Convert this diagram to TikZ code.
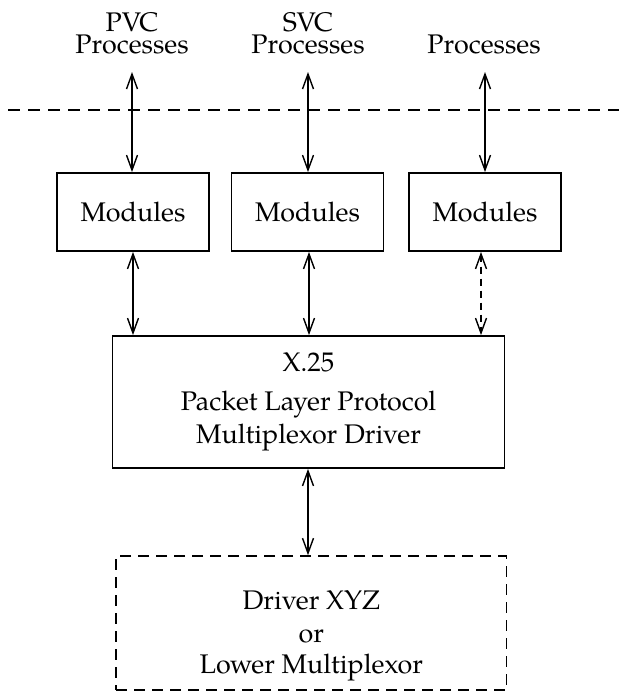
\documentclass[tikz,border=0pt]{standalone}
\usepackage{fontspec}
\setmainfont{TeX Gyre Pagella}
\usetikzlibrary{arrows.meta}
\tikzset{
  txt/.style={font=\fontsize{26.9}{33}\selectfont, inner sep=0pt},
  modbox/.style={draw, line width=1.8pt, minimum width=152pt, minimum height=78pt, inner sep=0pt, font=\fontsize{26.9}{33}\selectfont},
  bigbox/.style={draw, line width=1.8pt, minimum width=392pt, minimum height=132pt, inner sep=0pt, align=center, font=\fontsize{26.9}{33}\selectfont},
  dbox/.style={draw, dash pattern=on 11pt off 7pt, line width=1.6pt, minimum width=390.5pt, minimum height=134pt, inner sep=0pt},
  dbl/.style={line width=1.4pt, {Straight Barb[length=15pt,width=11pt,line width=1.4pt]}-{Straight Barb[length=15pt,width=11pt,line width=1.4pt]}},
  dbldash/.style={dbl, dash pattern=on 7pt off 5pt},
  sepline/.style={line width=1.6pt, dash pattern=on 12pt off 8pt}
}
\begin{document}
\begin{tikzpicture}[x=1pt,y=-1pt]
\useasboundingbox (0,0) rectangle (619,691);
% top labels
\node[txt, anchor=base] (pvcA) at (132,31.5) {PVC};
\node[txt, anchor=base] (pvcB) at (132,53) {Processes};
\node[txt, anchor=base] (svcA) at (308,31.5) {SVC};
\node[txt, anchor=base] (svcB) at (308,53) {Processes};
\node[txt, anchor=base] (othB) at (484,53) {Processes};
% boundary line
\coordinate (bl) at (8,110);
\coordinate (br) at (619,110);
\draw[sepline] (bl) -- (br);
% modules
\node[modbox] (m1) at (133,212) {Modules};
\node[modbox] (m2) at (307.5,212) {Modules};
\node[modbox] (m3) at (485,212) {Modules};
% top arrow ends
\coordinate (t1) at (132,72);
\coordinate (t2) at (308,72);
\coordinate (t3) at (485,72);
\draw[dbl] (t1) -- (t1 |- m1.north);
\draw[dbl] (t2) -- (t2 |- m2.north);
\draw[dbl] (t3) -- (t3 |- m3.north);
% multiplexor driver
\node[bigbox] (mux) at (308.5,402) {X.25\\[6pt]Packet Layer Protocol\\Multiplexor Driver};
\coordinate (b1) at (133,251);
\coordinate (b2) at (309,251);
\coordinate (b3) at (481,251);
\draw[dbl] (b1 |- m1.south) -- (b1 |- mux.north);
\draw[dbl] (b2 |- m2.south) -- (b2 |- mux.north);
\draw[dbldash] (b3 |- m3.south) -- (b3 |- mux.north);
% lower driver
\node[dbox] (drv) at (311.3,623) {};
\node[txt, anchor=base] (d1) at (311.3,609) {Driver XYZ};
\node[txt, anchor=base] (d2) at (311.3,642) {or};
\node[txt, anchor=base] (d3) at (311.3,673) {Lower Multiplexor};
\coordinate (c1) at (308,468);
\draw[dbl] (c1 |- mux.south) -- (c1 |- drv.north);
\end{tikzpicture}
\end{document}
